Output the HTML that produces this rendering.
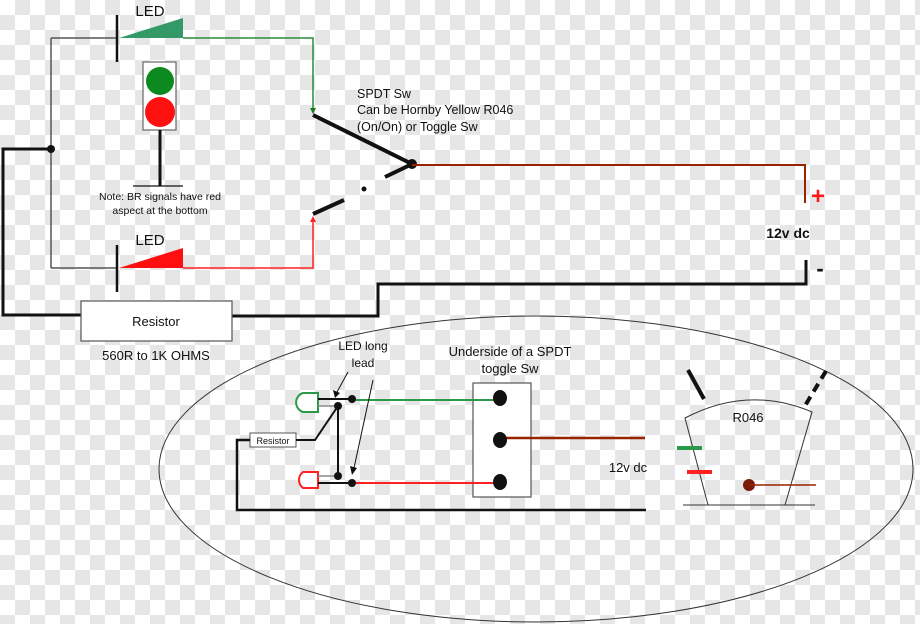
<!DOCTYPE html>
<html><head><meta charset="utf-8"><style>
html,body{margin:0;padding:0;}
body{width:920px;height:624px;overflow:hidden;background-color:#fff;
background-image:linear-gradient(45deg,#e6e6e6 25%,transparent 25%,transparent 75%,#e6e6e6 75%),linear-gradient(45deg,#e6e6e6 25%,transparent 25%,transparent 75%,#e6e6e6 75%);
background-size:30px 30px;background-position:0 0,15px 15px;}
svg{position:absolute;left:0;top:0;}
text{font-family:"Liberation Sans",sans-serif;fill:#111;}
</style></head><body>
<svg width="920" height="624" viewBox="0 0 920 624">
<polyline points="51,38 117,38" stroke="#555" stroke-width="1.5" fill="none"/>
<polyline points="183,38 313,38 313,110" stroke="#2a8a3a" stroke-width="1.5" fill="none"/>
<polygon points="310,108 316,108 313,114" fill="#1a7a1a"/>
<line x1="117" y1="15" x2="117" y2="62" stroke="#111" stroke-width="2.5"/>
<polygon points="119,38 183,18 183,38" fill="#339966"/>
<text x="150" y="16" font-size="15" text-anchor="middle">LED</text>
<line x1="51" y1="38" x2="51" y2="268" stroke="#555" stroke-width="1.5"/>
<circle cx="51" cy="149" r="4" fill="#111"/>
<polyline points="51,149 3,149 3,315 81,315" stroke="#111" stroke-width="3" fill="none"/>
<rect x="143" y="62" width="33" height="68" fill="#fff" stroke="#666" stroke-width="1.2"/>
<circle cx="160" cy="81" r="14" fill="#0d8a1f"/>
<circle cx="160" cy="112" r="15" fill="#ff1010"/>
<line x1="160" y1="130" x2="160" y2="186" stroke="#111" stroke-width="3"/>
<line x1="133" y1="186" x2="183" y2="186" stroke="#111" stroke-width="1.2"/>
<text x="160" y="200" font-size="10.5" text-anchor="middle">Note: BR signals have red</text>
<text x="160" y="214" font-size="10.5" text-anchor="middle">aspect at the bottom</text>
<line x1="51" y1="268" x2="117" y2="268" stroke="#555" stroke-width="1.5"/>
<polyline points="183,268 313,268 313,222" stroke="#ff2020" stroke-width="1.5" fill="none"/>
<polygon points="310,222 316,222 313,216" fill="#ff2020"/>
<line x1="117" y1="245" x2="117" y2="292" stroke="#111" stroke-width="2.5"/>
<polygon points="119,268 183,248 183,268" fill="#ff1010"/>
<text x="150" y="245" font-size="15" text-anchor="middle">LED</text>
<line x1="313" y1="115" x2="410" y2="163" stroke="#111" stroke-width="4"/>
<circle cx="412" cy="164" r="5" fill="#111"/>
<line x1="385" y1="177" x2="408" y2="166" stroke="#111" stroke-width="4"/>
<circle cx="364" cy="189" r="2.5" fill="#111"/>
<line x1="313" y1="214" x2="344" y2="200" stroke="#111" stroke-width="4"/>
<text x="357" y="98" font-size="12.5">SPDT Sw</text>
<text x="357" y="114" font-size="12.5">Can be Hornby Yellow R046</text>
<text x="357" y="131" font-size="12.5">(On/On) or Toggle Sw</text>
<polyline points="412,165 805,165 805,203" stroke="#992200" stroke-width="2" fill="none"/>
<text x="818" y="204" font-size="24" font-weight="bold" text-anchor="middle" style="fill:#ff1a1a">+</text>
<text x="788" y="238" font-size="14" font-weight="bold" text-anchor="middle">12v dc</text>
<polyline points="806,260 806,284 378,284 378,316 232,316" stroke="#111" stroke-width="3" fill="none"/>
<text x="820" y="276" font-size="22" font-weight="bold" text-anchor="middle">-</text>
<rect x="81" y="301" width="151" height="40" fill="#fff" stroke="#555" stroke-width="1.2"/>
<text x="156" y="326" font-size="13" text-anchor="middle">Resistor</text>
<text x="156" y="360" font-size="13" text-anchor="middle">560R to 1K OHMS</text>
<ellipse cx="536" cy="469" rx="377" ry="153" fill="none" stroke="#333" stroke-width="1"/>
<path d="M318,393 L303,393 A10,10 0 0 0 303,412 L318,412 Z" fill="#fff" stroke="#2a9a4a" stroke-width="2"/>
<path d="M318,472 L303,472 A10,10 0 0 0 303,488 L318,488 Z" fill="#fff" stroke="#ff2020" stroke-width="2"/>
<line x1="318" y1="399" x2="352" y2="399" stroke="#111" stroke-width="2"/>
<line x1="318" y1="406" x2="338" y2="406" stroke="#888" stroke-width="1.5"/>
<line x1="318" y1="476" x2="338" y2="476" stroke="#888" stroke-width="1.5"/>
<line x1="318" y1="483" x2="352" y2="483" stroke="#111" stroke-width="2"/>
<line x1="338" y1="406" x2="338" y2="476" stroke="#111" stroke-width="2"/>
<rect x="250" y="433" width="46" height="14" fill="#fff" stroke="#555"/>
<text x="273" y="444" font-size="9" text-anchor="middle">Resistor</text>
<polyline points="296,440 315,440 338,406" stroke="#111" stroke-width="2" fill="none"/>
<polyline points="250,440 237,440 237,510 646,510" stroke="#111" stroke-width="2.5" fill="none"/>
<rect x="473" y="383" width="58" height="114" fill="#fff" stroke="#555" stroke-width="1.2"/>
<line x1="352" y1="400" x2="500" y2="400" stroke="#2a9a4a" stroke-width="2"/>
<line x1="352" y1="483" x2="500" y2="483" stroke="#ff2020" stroke-width="2"/>
<line x1="500" y1="438" x2="645" y2="438" stroke="#992200" stroke-width="2.5"/>
<circle cx="352" cy="399" r="4" fill="#111"/><circle cx="338" cy="406" r="4" fill="#111"/>
<circle cx="338" cy="476" r="4" fill="#111"/><circle cx="352" cy="483" r="4" fill="#111"/>
<text x="363" y="350" font-size="12" text-anchor="middle">LED long</text>
<text x="363" y="367" font-size="12" text-anchor="middle">lead</text>
<line x1="348" y1="372" x2="337" y2="392" stroke="#111" stroke-width="1"/>
<polygon points="333,390 340,393 335,398" fill="#111"/>
<line x1="373" y1="380" x2="354" y2="468" stroke="#111" stroke-width="1"/>
<polygon points="350,466 357,468 352,475" fill="#111"/>
<ellipse cx="500" cy="398" rx="7" ry="8" fill="#111"/>
<ellipse cx="500" cy="440" rx="7" ry="8" fill="#111"/>
<ellipse cx="500" cy="482" rx="7" ry="8" fill="#111"/>
<text x="510" y="356" font-size="13" text-anchor="middle">Underside of a SPDT</text>
<text x="510" y="373" font-size="13" text-anchor="middle">toggle Sw</text>
<text x="628" y="472" font-size="13" text-anchor="middle">12v dc</text>
<path d="M708,505 L685,418 Q748,385 812,412 L785,505" fill="none" stroke="#333" stroke-width="1"/>
<line x1="683" y1="505" x2="815" y2="505" stroke="#333" stroke-width="1"/>
<text x="748" y="422" font-size="13" text-anchor="middle">R046</text>
<line x1="688" y1="370" x2="704" y2="399" stroke="#111" stroke-width="4"/>
<line x1="826" y1="371" x2="803" y2="409" stroke="#111" stroke-width="4" stroke-dasharray="9,6"/>
<line x1="677" y1="448" x2="702" y2="448" stroke="#2a9a4a" stroke-width="4"/>
<line x1="687" y1="472" x2="712" y2="472" stroke="#ff2020" stroke-width="4"/>
<circle cx="749" cy="485" r="6" fill="#7a1a0a"/>
<line x1="749" y1="485" x2="816" y2="485" stroke="#992200" stroke-width="1.5"/>
</svg>
</body></html>
